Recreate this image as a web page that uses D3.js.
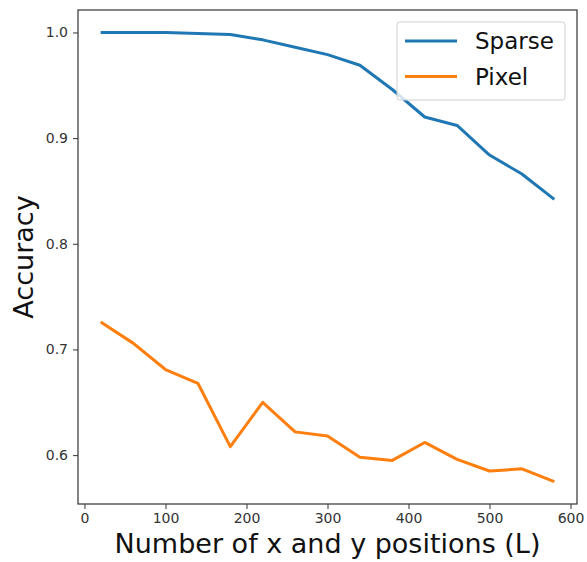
<!DOCTYPE html>
<html><head><meta charset="utf-8">
<script src="https://cdn.jsdelivr.net/npm/d3@7"></script>
<style>body{margin:0;background:#fff}svg{display:block}</style>
</head><body>
<svg id="c" width="587" height="562"></svg>
<script>
const positions = [20,60,100,140,180,220,260,300,340,380,420,460,500,540,580];
const sparse = [1.0,1.0,1.0,0.999,0.998,0.993,0.986,0.979,0.969,0.946,0.920,0.912,0.884,0.866,0.842];
const pixel = [0.726,0.706,0.681,0.668,0.608,0.650,0.622,0.618,0.598,0.595,0.612,0.596,0.585,0.587,0.575];
const xTicks = [0,100,200,300,400,500,600];
const yTicks = [0.6,0.7,0.8,0.9,1.0];
const seriesNames = ["Sparse","Pixel"];
const colors = ["#1f77b4","#ff7f0e"];

const svg = d3.select("#c");
const L=78, R=577, T=10, B=504;
const x = d3.scaleLinear().domain([-8,608]).range([L,R]);
const y = d3.scaleLinear().domain([0.55375,1.02125]).range([B,T]);
const font = "DejaVu Sans, sans-serif";

const gx = svg.append("g").attr("transform",`translate(0,${B})`)
  .call(d3.axisBottom(x).tickValues(xTicks).tickFormat(d3.format("d")).tickSize(5).tickPadding(4));
const gy = svg.append("g").attr("transform",`translate(${L},0)`)
  .call(d3.axisLeft(y).tickValues(yTicks).tickFormat(d3.format(".1f")).tickSize(5).tickPadding(5));
[gx,gy].forEach(g=>{
  g.select(".domain").remove();
  g.selectAll("text").attr("font-family",font).attr("font-size",14).attr("fill","#333");
  g.selectAll("line").attr("stroke","#333");
});

const line = d3.line().x((d,i)=>x(positions[i])).y(d=>y(d));
[sparse,pixel].forEach((s,k)=>{
  svg.append("path").datum(s).attr("d",line).attr("fill","none")
    .attr("stroke",colors[k]).attr("stroke-width",3).attr("stroke-linejoin","round");
});

svg.append("rect").attr("x",L).attr("y",T).attr("width",R-L).attr("height",B-T)
  .attr("fill","none").attr("stroke","#333").attr("stroke-width",1.2);

// legend
const lg = svg.append("g");
lg.append("rect").attr("x",397).attr("y",22).attr("width",168).attr("height",78).attr("rx",3)
  .attr("fill","#fff").attr("fill-opacity",0.8).attr("stroke","#d0d0d0");
seriesNames.forEach((n,k)=>{
  const yy = 41 + k*35.5;
  lg.append("line").attr("x1",405).attr("x2",457).attr("y1",yy).attr("y2",yy)
    .attr("stroke",colors[k]).attr("stroke-width",3);
  lg.append("text").attr("x",475).attr("y",yy).attr("dy","0.36em")
    .attr("font-family",font).attr("font-size",23).attr("fill","#111").text(n);
});

svg.append("text").attr("x",(L+R)/2).attr("y",553).attr("text-anchor","middle")
  .attr("font-family",font).attr("font-size",27).attr("fill","#111")
  .text("Number of x and y positions (L)");
svg.append("text").attr("transform",`translate(33,${(T+B)/2}) rotate(-90)`).attr("text-anchor","middle")
  .attr("font-family",font).attr("font-size",27).attr("fill","#111").text("Accuracy");
</script>
</body></html>
